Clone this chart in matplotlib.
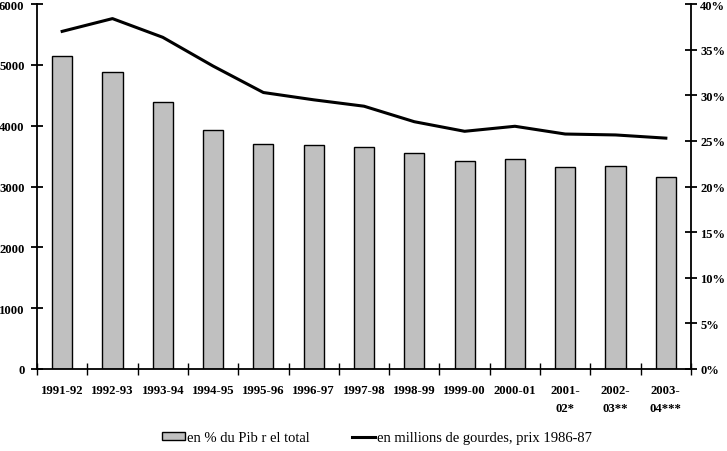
import matplotlib
matplotlib.use("Agg")
import matplotlib.pyplot as plt
from matplotlib.ticker import FuncFormatter, FixedLocator
import numpy as np

categories = ["1991-92", "1992-93", "1993-94", "1994-95", "1995-96", "1996-97",
              "1997-98", "1998-99", "1999-00", "2000-01", "2001-\n02*", "2002-\n03**", "2003-\n04***"]
bar_values = [5140, 4890, 4395, 3935, 3705, 3678, 3655, 3556, 3425, 3458, 3326, 3342, 3162]
line_values = [37.0, 38.4, 36.35, 33.2, 30.3, 29.5, 28.8, 27.1, 26.05, 26.6, 25.75, 25.65, 25.3]
bar_label = "en % du Pib r el total"
line_label = "en millions de gourdes, prix 1986-87"

plt.rcParams['font.family'] = ['Liberation Serif', 'DejaVu Serif']

fig = plt.figure(figsize=(7.27, 4.52), dpi=100)
ax = fig.add_axes([37/727, 1-370/452, (691-37)/727, (370-5)/452])
x = np.arange(len(categories))
bars = ax.bar(x, bar_values, width=0.4, color="#c0c0c0", edgecolor="black", linewidth=1.0, label=bar_label)
ax.set_xlim(-0.5, len(categories)-0.5)
ax.set_ylim(0, 6000)
ax.set_yticks(range(0, 6001, 1000))
ax2 = ax.twinx()
ln, = ax2.plot(x, line_values, color="black", linewidth=2.2, label=line_label)
ax2.set_ylim(0, 40)
ax2.set_yticks(range(0, 41, 5))
ax2.yaxis.set_major_formatter(FuncFormatter(lambda v, p: f"{int(v)}%"))

for a in (ax, ax2):
    a.spines['top'].set_visible(False)
ax.spines['right'].set_visible(False)
ax.spines['left'].set_linewidth(1.3)
ax.spines['bottom'].set_linewidth(1.3)
ax2.spines['right'].set_linewidth(1.3)
ax2.spines['left'].set_visible(False)
ax2.spines['bottom'].set_visible(False)

ax.set_xticks(x)
ax.set_xticklabels(categories, fontsize=9.2, fontweight='bold', linespacing=1.65)
ax.xaxis.set_minor_locator(FixedLocator(np.arange(-0.5, len(categories), 1.0)))
ax.tick_params(axis='x', which='major', length=0, pad=11)
ax.tick_params(axis='x', which='minor', length=8, width=1, direction='inout')
ax.tick_params(axis='y', length=8, width=1.3, direction='inout', labelsize=9.2, pad=5)
ax2.tick_params(axis='y', length=8, width=1.3, direction='inout', labelsize=9, pad=2.5)
for t in ax.get_yticklabels() + ax2.get_yticklabels():
    t.set_fontweight('bold')

fig.legend([bars, ln], [bar_label, line_label], loc='center left', bbox_to_anchor=(162/727, 1-439/452),
           ncol=2, frameon=False, fontsize=10.5, handlelength=1.6, handleheight=0.5,
           handletextpad=0.1, columnspacing=2.9, borderpad=0, borderaxespad=0)

fig.savefig("out.png", dpi=100)
